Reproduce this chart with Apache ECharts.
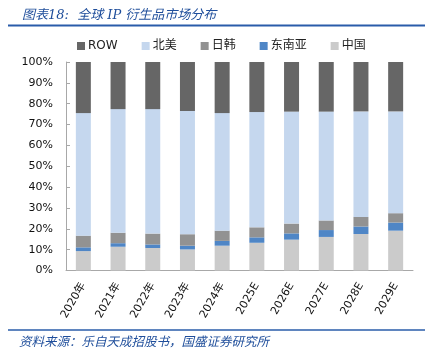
<!DOCTYPE html>
<html><head><meta charset="utf-8">
<script src="https://cdn.jsdelivr.net/npm/echarts@6/dist/echarts.min.js"></script>
<style>html,body{margin:0;padding:0;background:#fff}#c{width:429px;height:357px}</style>
</head><body><div id="c"></div>
<script>
const categories = ['2020年','2021年','2022年','2023年','2024年','2025E','2026E','2027E','2028E','2029E'];
const china   = [9.3, 11.4, 10.8, 10.1, 11.9, 13.3, 14.8, 16.1, 17.5, 19.1];
const seAsia  = [1.8, 1.7, 1.7, 1.8, 2.3, 2.6, 3.0, 3.3, 3.6, 3.9];
const japanKorea = [5.6, 5.0, 5.2, 5.5, 4.9, 4.8, 4.7, 4.6, 4.6, 4.5];
const northAmerica = [58.8, 59.3, 59.7, 59.1, 56.4, 55.3, 53.7, 52.2, 50.6, 48.8];
const row = [24.5, 22.6, 22.6, 23.5, 24.5, 24.0, 23.8, 23.8, 23.7, 23.7];
const yTicks = [0, 10, 20, 30, 40, 50, 60, 70, 80, 90, 100];

const chart = echarts.init(document.getElementById('c'), null, {renderer:'canvas'});
const font = 'DejaVu Sans, "Noto Sans CJK SC", sans-serif';
const blue = '#1F4E9B';
function bar(name, data, color){
  return {name, type:'bar', stack:'s', data, barWidth:15, itemStyle:{color}, emphasis:{disabled:true}};
}
chart.setOption({
  animation:false,
  title:{text:'图表18:  全球 IP 衍生品市场分布', left:17, top:4,
    textStyle:{fontSize:13, fontStyle:'italic', fontWeight:'normal', color:blue, fontFamily:'"DejaVu Serif", "Noto Sans CJK SC", serif'}},
  graphic:[
    {type:'line', shape:{x1:8,y1:25.5,x2:425,y2:25.5}, style:{stroke:'#2A5CAA', lineWidth:2}},
    {type:'line', shape:{x1:8,y1:330,x2:425,y2:330}, style:{stroke:'#2A5CAA', lineWidth:1.5}},
    {type:'text', left:19, top:335, style:{text:'资料来源：乐自天成招股书，国盛证券研究所', fontSize:12.5, fontStyle:'italic', fill:blue, fontFamily:'"Noto Sans CJK SC", sans-serif'}}
  ],
  legend:{data:['ROW','北美','日韩','东南亚','中国'], left:72, top:35, itemWidth:8, itemHeight:8, itemGap:24,
    icon:'rect', textStyle:{fontSize:12, color:'#222', fontFamily:font, padding:[0,0,0,-2]}},
  grid:{left:66, right:16, top:62, bottom:86.5},
  xAxis:{type:'category', data:categories, boundaryGap:true,
    axisLine:{lineStyle:{color:'#A8A8A8', width:1}},
    axisTick:{inside:true, length:4, lineStyle:{color:'#A8A8A8'}},
    axisLabel:{rotate:60, fontSize:11, color:'#111', fontFamily:font, margin:13, interval:0}},
  yAxis:{type:'value', min:yTicks[0], max:yTicks[yTicks.length-1], interval:10,
    axisLine:{show:true, lineStyle:{color:'#A8A8A8', width:1}},
    axisTick:{show:true, inside:true, length:4, lineStyle:{color:'#A8A8A8'}},
    splitLine:{show:false},
    axisLabel:{formatter:'{value}%', fontSize:11, color:'#111', fontFamily:font, margin:13}},
  series:[
    bar('中国', china, '#CBCBCB'),
    bar('东南亚', seAsia, '#4F86C6'),
    bar('日韩', japanKorea, '#929292'),
    bar('北美', northAmerica, '#C5D7EE'),
    bar('ROW', row, '#666666')
  ]
});
</script></body></html>
